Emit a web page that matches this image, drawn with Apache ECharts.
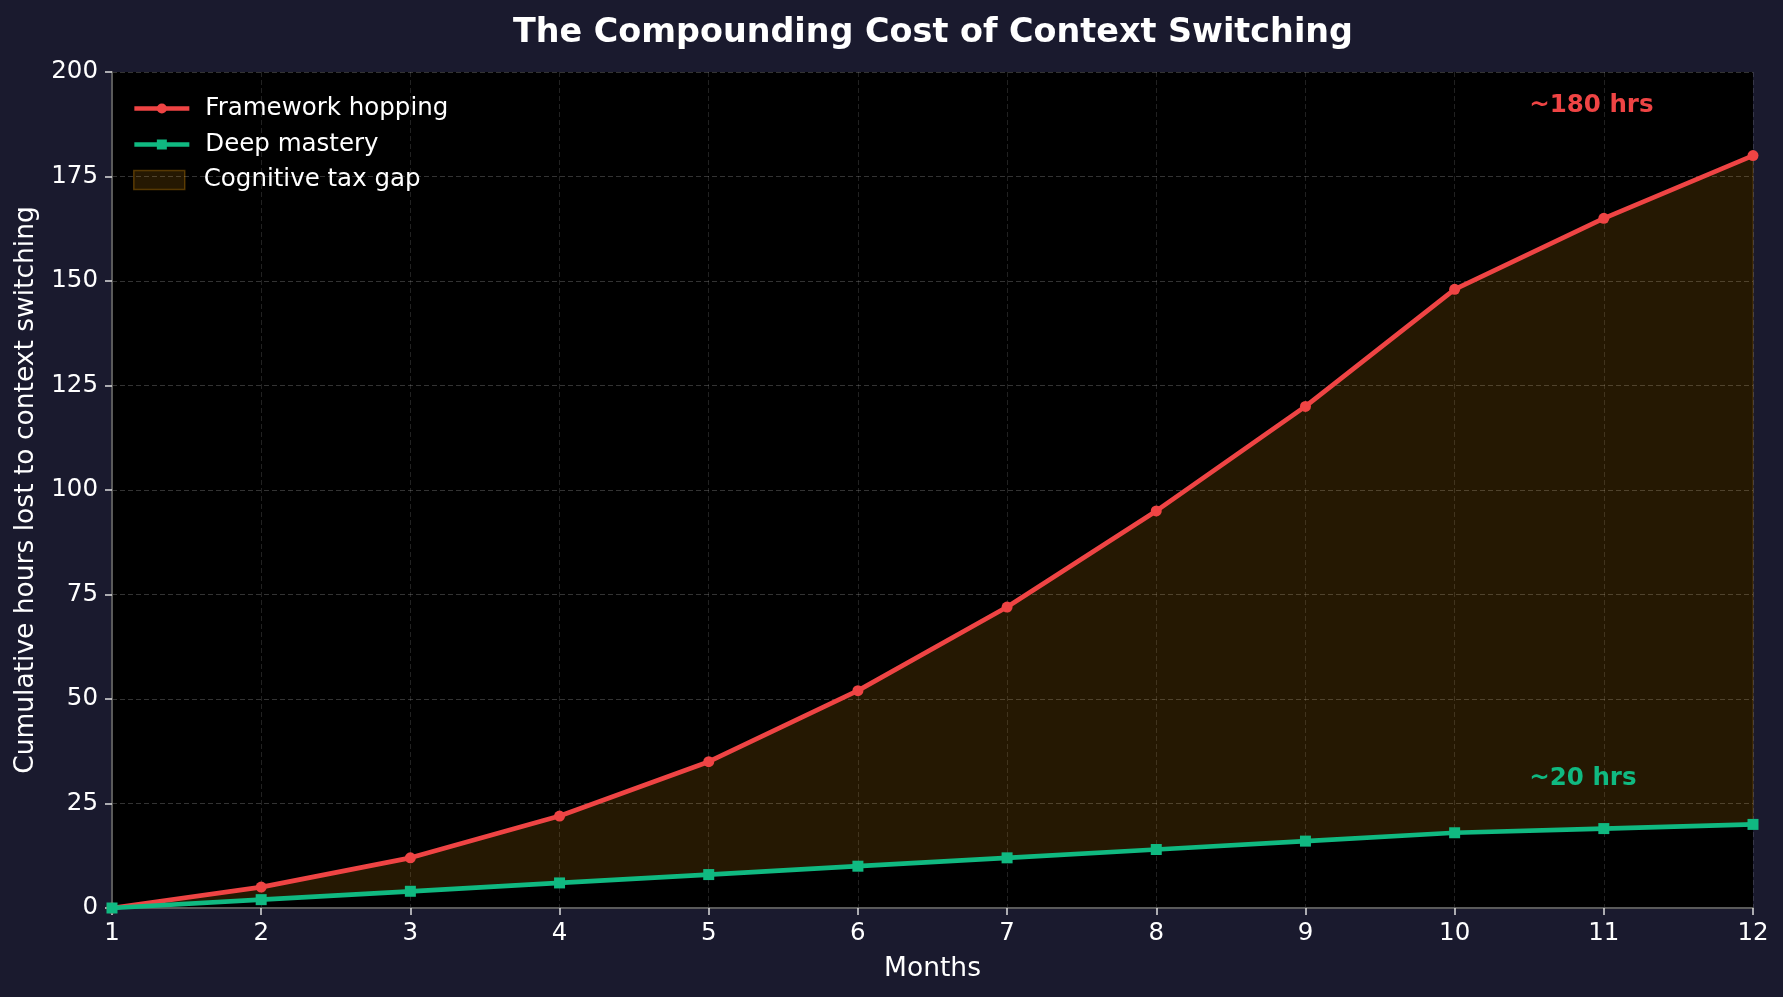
<!DOCTYPE html>
<html>
<head>
<meta charset="utf-8">
<script src="https://cdn.jsdelivr.net/npm/echarts@6/dist/echarts.min.js"></script>
<style>
html,body{margin:0;padding:0;background:#1a1a2e;}
#chart{width:1783px;height:997px;}
</style>
</head>
<body>
<div id="chart"></div>
<script>
const months = [1,2,3,4,5,6,7,8,9,10,11,12];
const frameworkHopping = [0,5,12,22,35,52,72,95,120,148,165,180];
const deepMastery = [0,2,4,6,8,10,12,14,16,18,19,20];
const yTicks = {min:0, max:200, interval:25};
const annotations = [
  {x:10.5, y:192, text:'~180 hrs', color:'#ef4444'},
  {x:10.5, y:31, text:'~20 hrs', color:'#10b981'}
];

const FONT = 'DejaVu Sans';
const RED = '#ef4444', GREEN = '#10b981';
const FILL = 'rgba(245,158,11,0.15)';
const LW = 4.7;

const pairs = arr => months.map((m,i)=>[m, arr[i]]);

const chart = echarts.init(document.getElementById('chart'));
chart.setOption({
  backgroundColor:'#1a1a2e',
  animation:false,
  title:{
    text:'The Compounding Cost of Context Switching',
    left:928, top:12, textAlign:'center',
    textStyle:{color:'#ffffff', fontFamily:FONT, fontWeight:'bold', fontSize:33.4}
  },
  grid:{left:112, right:30, top:72, bottom:89, show:true, backgroundColor:'#000000', borderWidth:0,
        containLabel:false, outerBoundsMode:'none'},
  legend:[
    {
      orient:'vertical', left:127, top:91,
      itemWidth:55, itemHeight:12.5, itemGap:11,
      lineStyle:{width:LW},
      textStyle:{color:'#ffffff', fontFamily:FONT, fontSize:24.5, padding:[0,0,0,11]},
      data:[{name:'Framework hopping'},{name:'Deep mastery'}]
    },
    {
      orient:'vertical', left:128, top:162.5,
      itemWidth:51, itemHeight:19,
      textStyle:{color:'#ffffff', fontFamily:FONT, fontSize:24.5, padding:[0,0,0,14]},
      data:[{name:'Cognitive tax gap', icon:'rect', itemStyle:{color:FILL, borderColor:'rgba(245,158,11,0.3)', borderWidth:1.5}}]
    }
  ],
  xAxis:{
    type:'value', min:1, max:12, interval:1,
    name:'Months', nameLocation:'middle', nameGap:48,
    nameTextStyle:{color:'#ffffff', fontFamily:FONT, fontSize:26.5},
    axisLine:{show:true, lineStyle:{color:'#5a5a5a', width:2}},
    axisTick:{show:true, length:7, lineStyle:{color:'#dddddd', width:1.5}},
    axisLabel:{color:'#ffffff', fontFamily:FONT, fontSize:24.5, margin:13},
    splitLine:{show:true, lineStyle:{color:'rgba(255,255,255,0.13)', width:1, type:[5,3]}}
  },
  yAxis:{
    type:'value', min:yTicks.min, max:yTicks.max, interval:yTicks.interval,
    name:'Cumulative hours lost to context switching', nameLocation:'middle', nameGap:72, nameRotate:90,
    nameTextStyle:{color:'#ffffff', fontFamily:FONT, fontSize:26.5},
    axisLine:{show:true, lineStyle:{color:'#5a5a5a', width:2}},
    axisTick:{show:true, length:7, lineStyle:{color:'#dddddd', width:1.5}},
    axisLabel:{color:'#ffffff', fontFamily:FONT, fontSize:24.5, margin:14},
    splitLine:{show:true, lineStyle:{color:'rgba(255,255,255,0.2)', width:1, type:[5,3]}}
  },
  series:[
    {
      name:'Cognitive tax gap', type:'custom', data:pairs(frameworkHopping),
      encode:{x:0, y:1}, itemStyle:{color:FILL}, silent:true, z:1,
      renderItem:function(params, api){
        if (params.dataIndex !== 0) return null;
        const pts = [];
        for (let i=0;i<months.length;i++) pts.push(api.coord([months[i], frameworkHopping[i]]));
        for (let i=months.length-1;i>=0;i--) pts.push(api.coord([months[i], deepMastery[i]]));
        return {type:'polygon', shape:{points:pts},
          style:{fill:FILL, stroke:'rgba(245,158,11,0.15)', lineWidth:1.5}};
      }
    },
    {
      name:'Framework hopping', type:'line', data:pairs(frameworkHopping),
      symbol:'circle', symbolSize:11, showAllSymbol:true,
      lineStyle:{color:RED, width:LW}, itemStyle:{color:RED}, z:3,
      markPoint:{
        symbol:'circle', symbolSize:0, silent:true,
        data:[{coord:[annotations[0].x, annotations[0].y], value:annotations[0].text,
          label:{show:true, position:'right', distance:0, formatter:annotations[0].text,
            color:annotations[0].color, fontFamily:FONT, fontWeight:'bold', fontSize:24.5}}]
      }
    },
    {
      name:'Deep mastery', type:'line', data:pairs(deepMastery),
      symbol:'rect', symbolSize:11, showAllSymbol:true,
      lineStyle:{color:GREEN, width:LW}, itemStyle:{color:GREEN}, z:4,
      markPoint:{
        symbol:'circle', symbolSize:0, silent:true,
        data:[{coord:[annotations[1].x, annotations[1].y], value:annotations[1].text,
          label:{show:true, position:'right', distance:0, formatter:annotations[1].text,
            color:annotations[1].color, fontFamily:FONT, fontWeight:'bold', fontSize:24.5}}]
      }
    }
  ]
});
</script>
</body>
</html>
